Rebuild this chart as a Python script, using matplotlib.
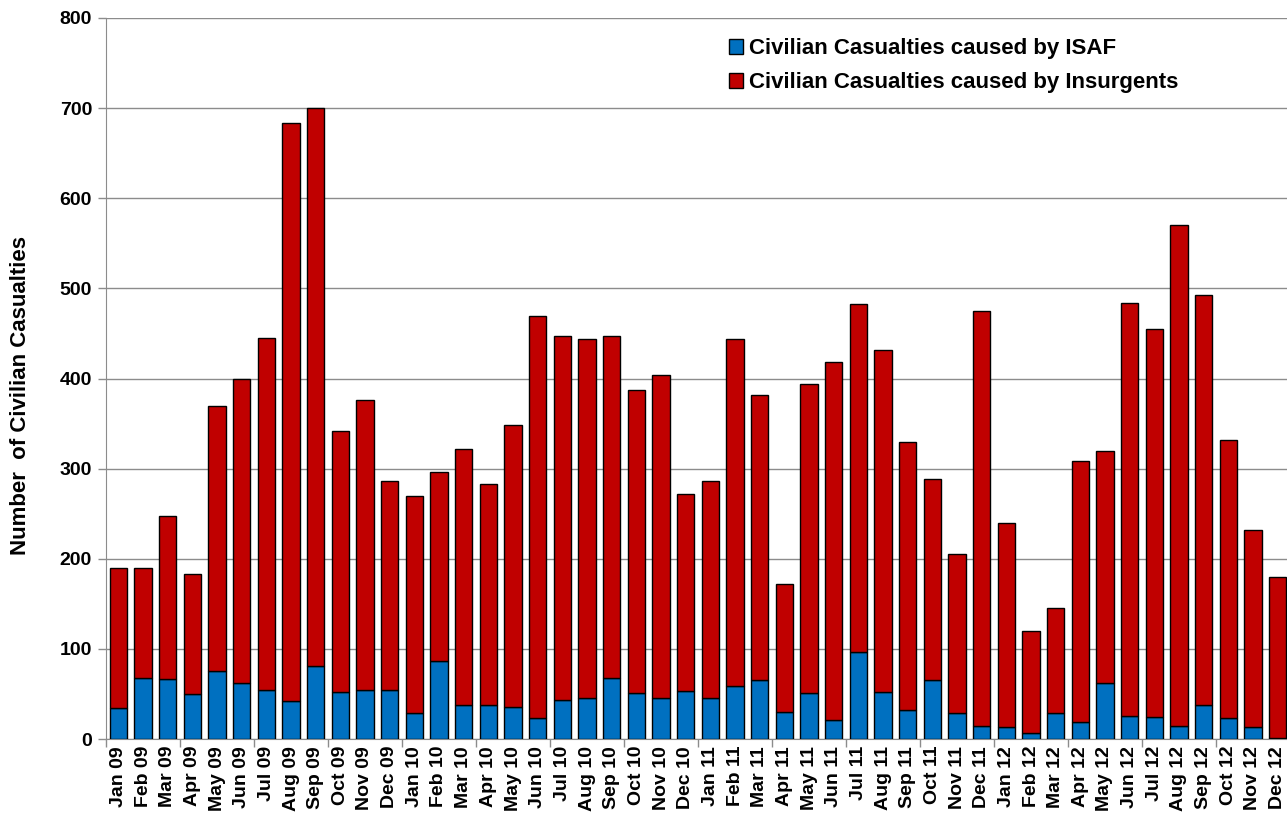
import matplotlib.pyplot as plt
import numpy as np

plt.rcParams['font.family'] = ['Liberation Sans', 'DejaVu Sans']
plt.rcParams['font.weight'] = 'bold'

# Monatsbeschriftungen
months = ["Jan 09", "Feb 09", "Mar 09", "Apr 09", "May 09", "Jun 09", "Jul 09", "Aug 09",
          "Sep 09", "Oct 09", "Nov 09", "Dec 09", "Jan 10", "Feb 10", "Mar 10", "Apr 10",
          "May 10", "Jun 10", "Jul 10", "Aug 10", "Sep 10", "Oct 10", "Nov 10", "Dec 10",
          "Jan 11", "Feb 11", "Mar 11", "Apr 11", "May 11", "Jun 11", "Jul 11", "Aug 11",
          "Sep 11", "Oct 11", "Nov 11", "Dec 11", "Jan 12", "Feb 12", "Mar 12", "Apr 12",
          "May 12", "Jun 12", "Jul 12", "Aug 12", "Sep 12", "Oct 12", "Nov 12", "Dec 12"]

totals = [190, 190, 247, 183, 370, 399, 445, 683, 700, 342, 376, 286,
          270, 296, 322, 283, 348, 469, 447, 444, 447, 387, 404, 272,
          286, 444, 382, 172, 394, 418, 483, 432, 330, 288, 205, 475,
          240, 120, 145, 308, 320, 484, 455, 570, 493, 332, 232, 180]

isaf = [34, 68, 67, 50, 75, 62, 54, 42, 81, 52, 54, 54,
        29, 87, 38, 38, 35, 23, 43, 45, 68, 51, 46, 53,
        45, 59, 65, 30, 51, 21, 97, 52, 32, 65, 29, 14,
        13, 7, 29, 19, 62, 26, 24, 14, 38, 23, 13, 1]

insurgents = [t - i for t, i in zip(totals, isaf)]

fig = plt.figure(figsize=(12.87, 8.18), dpi=100)
ax = fig.add_axes([106 / 1287, 79 / 818, 1184 / 1287, 721 / 818])

x = np.arange(len(months))
w = 0.69
ax.bar(x, isaf, w, color="#0070C0", edgecolor="black", linewidth=1,
       label="Civilian Casualties caused by ISAF", zorder=3)
ax.bar(x, insurgents, w, bottom=isaf, color="#C00000", edgecolor="black", linewidth=1,
       label="Civilian Casualties caused by Insurgents", zorder=3)

ax.set_xlim(-0.5, len(months) - 0.5)
ax.set_ylim(0, 800)
ax.set_yticks(range(0, 801, 100))
ax.yaxis.grid(True, color="#8c8c8c", linewidth=1)
ax.set_axisbelow(True)

ax.set_xticks(x)
ax.set_xticklabels(months, rotation=90, fontsize=14, fontweight='bold')
ax.tick_params(axis='x', which='major', length=0, pad=5)
ax.set_xticks(np.arange(-0.5, len(months), 3), minor=True)
ax.tick_params(axis='x', which='minor', length=6, color="#8c8c8c", width=1)
ax.tick_params(axis='y', length=6, color="#8c8c8c", width=1, labelsize=14, pad=4)
for lbl in ax.get_yticklabels():
    lbl.set_fontweight('bold')

for s in ['top', 'right']:
    ax.spines[s].set_visible(False)
for s in ['left', 'bottom']:
    ax.spines[s].set_color("#8c8c8c")

ax.set_ylabel("Number  of Civilian Casualties", fontsize=16, fontweight='bold')
ax.yaxis.set_label_coords(-0.063, 0.477)

ax.legend(loc='upper left', bbox_to_anchor=(0.509, 1.0), frameon=False,
          handlelength=0.65, handleheight=0.65, handletextpad=0.25,
          labelspacing=0.6, prop={'weight': 'bold', 'size': 16})

fig.savefig("out.png", dpi=100)
